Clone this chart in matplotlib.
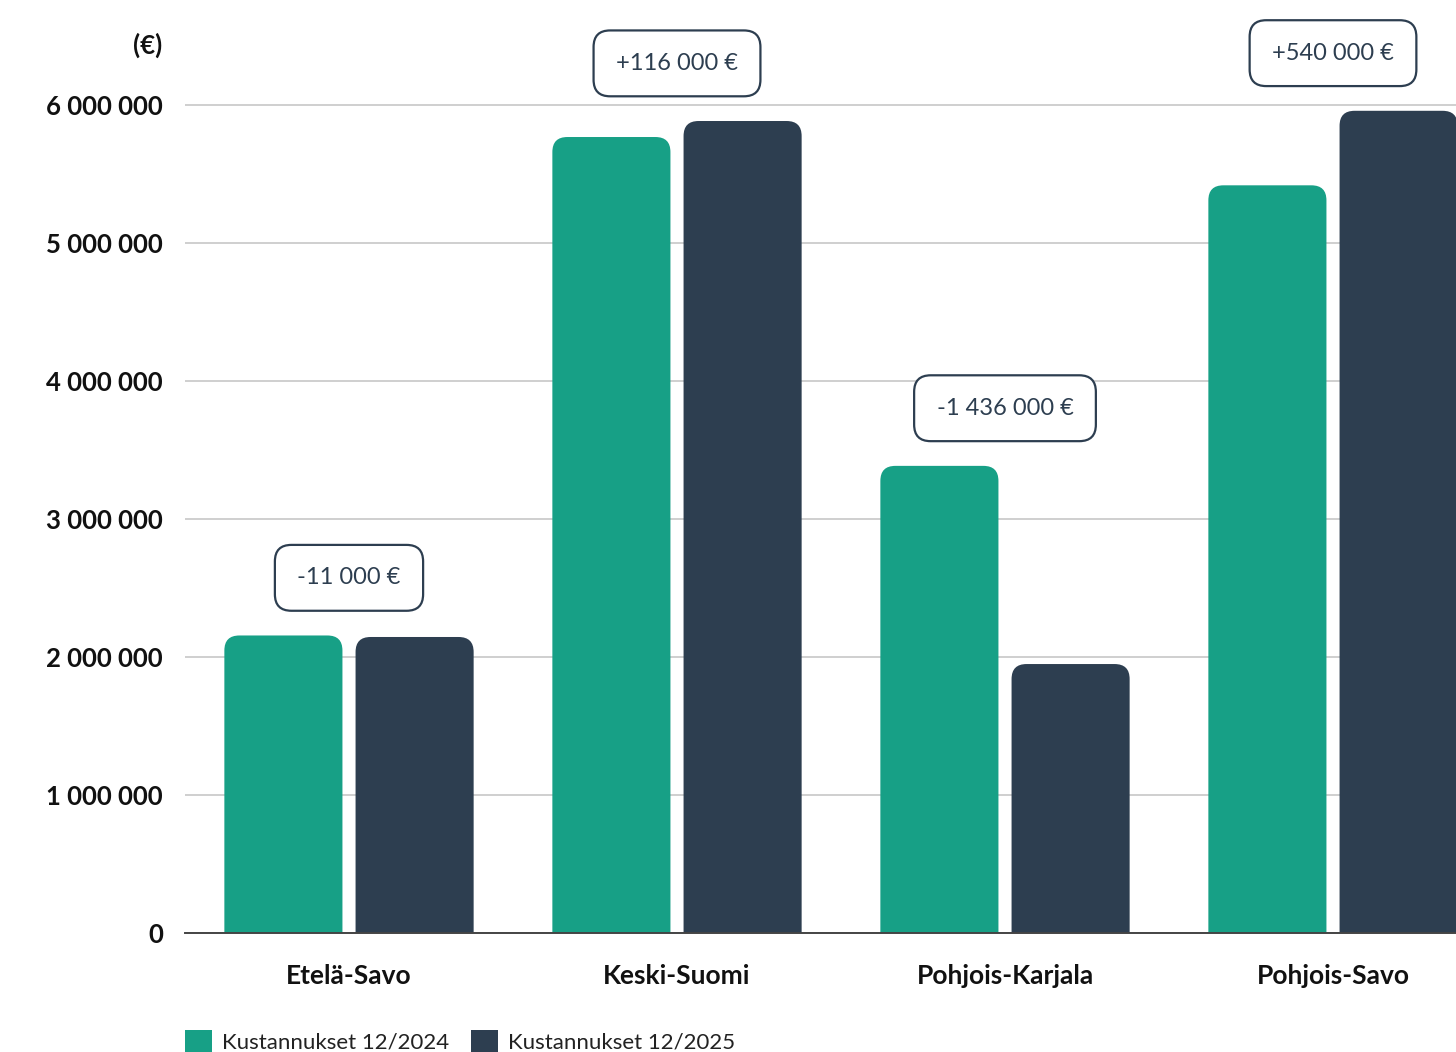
import matplotlib
matplotlib.use("Agg")
import matplotlib.pyplot as plt
from matplotlib.patches import FancyBboxPatch, Patch
from matplotlib.ticker import FuncFormatter

plt.rcParams['font.family'] = ['Lato', 'DejaVu Sans']

# costs per region, euros
regions = ['Etelä-Savo', 'Keski-Suomi', 'Pohjois-Karjala', 'Pohjois-Savo']
costs_2024 = [2156000, 5768000, 3385000, 5418000]
costs_2025 = [2145000, 5884000, 1949000, 5958000]
changes = ['-11 000 €', '+116 000 €', '-1 436 000 €', '+540 000 €']
series_labels = ['Kustannukset 12/2024', 'Kustannukset 12/2025']
yticks = [0, 1000000, 2000000, 3000000, 4000000, 5000000, 6000000]

GREEN = '#17a086'
NAVY = '#2d3e50'

W, H = 1456, 1052
fig = plt.figure(figsize=(W / 100, H / 100), dpi=100)

# axes in pixel terms: x0=185, y=0 at row 933, 138 px per million
ymax = 6300000
y0_px, px_per_unit = 933, 138e-6
top_px = y0_px - ymax * px_per_unit
ax = fig.add_axes([185 / W, (H - y0_px) / H, 1312 / W, (y0_px - top_px) / H])
ax.set_xlim(-0.5, 3.5)
ax.set_ylim(0, ymax)

width = 0.36
offset = 0.2
radius_px = 15
x_per_px = 4 / 1312
y_per_px = 1 / px_per_unit
aspect = y_per_px / x_per_px


def rounded_bar(x, h, color):
    # round top corners; bottom corners sit below y=0 and get clipped
    r = radius_px * x_per_px
    patch = FancyBboxPatch((x - width / 2, -radius_px * 2 * y_per_px), width,
                           h + radius_px * 2 * y_per_px,
                           boxstyle=f"round,pad=0,rounding_size={r}",
                           mutation_aspect=aspect, facecolor=color,
                           edgecolor='none', zorder=3)
    ax.add_patch(patch)


for i, (a, b) in enumerate(zip(costs_2024, costs_2025)):
    rounded_bar(i - offset, a, GREEN)
    rounded_bar(i + offset, b, NAVY)
    ax.annotate(changes[i], xy=(i, max(a, b)), xytext=(0, 41.5),
                textcoords='offset points', ha='center', va='center',
                fontsize=17, color=NAVY, annotation_clip=False,
                bbox=dict(boxstyle='round,pad=0.95,rounding_size=0.7',
                          facecolor='white', edgecolor=NAVY, linewidth=1.6))

ax.set_yticks(yticks)
ax.yaxis.set_major_formatter(FuncFormatter(lambda v, p: f"{int(v):,}".replace(',', ' ')))
ax.set_xticks(range(len(regions)))
ax.set_xticklabels(regions)
ax.tick_params(axis='y', length=0, pad=16, labelsize=18.5, labelcolor='#111111')
ax.tick_params(axis='x', length=0, pad=22, labelsize=19, labelcolor='#111111')
for lbl in ax.get_xticklabels() + ax.get_yticklabels():
    lbl.set_fontweight('bold')

ax.grid(axis='y', color='#cccccc', linewidth=1.3, zorder=0)
ax.set_axisbelow(True)
for side in ['top', 'right', 'left']:
    ax.spines[side].set_visible(False)
ax.spines['bottom'].set_color('#444444')
ax.spines['bottom'].set_linewidth(1.4)
ax.spines['bottom'].set_zorder(4)

fig.text(148 / W, 1 - 45 / H, '(€)', ha='center', va='center',
         fontsize=18.5, fontweight='bold', color='#111111')

handles = [Patch(facecolor=GREEN), Patch(facecolor=NAVY)]
fig.legend(handles, series_labels, loc='center left',
           bbox_to_anchor=(185 / W, (H - 1041) / H), ncol=2, frameon=False,
           fontsize=16, handlelength=1.2, handleheight=1.15, handletextpad=0.45,
           columnspacing=1.0, borderpad=0, borderaxespad=0, labelcolor='#222222')

fig.savefig('out.png', dpi=100)
